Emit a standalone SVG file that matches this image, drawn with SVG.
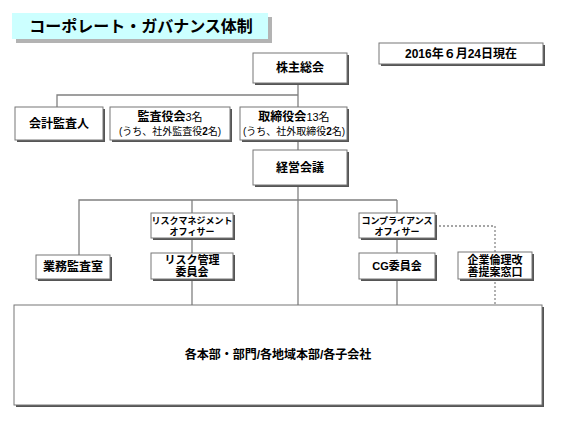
<svg xmlns="http://www.w3.org/2000/svg" width="566" height="424" viewBox="0 0 566 424">
<defs>
<style>
.sh{fill:#555555}
.bx{fill:#ffffff;stroke:#777777;stroke-width:1}
.ln{fill:none;stroke:#808080;stroke-width:1.3}
.dt{fill:none;stroke:#888888;stroke-width:1.3;stroke-dasharray:2 2}
text{font-family:"Liberation Sans","Noto Sans CJK JP",sans-serif;fill:#000;text-anchor:middle}
.b{font-weight:bold}
.t12{font-size:12px}
.t11{font-size:11px}
.t10{font-size:10px}
.t9{font-size:9px}
</style>
</defs>
<rect width="566" height="424" fill="#ffffff"/>

<g id="title">
<rect x="16" y="17" width="256" height="26" fill="#b3b3b3"/>
<rect x="12" y="13" width="256" height="26" fill="#ccffff"/>
<text x="141" y="32" class="b" style="font-size:16px">コーポレート・ガバナンス体制</text>
</g>

<g id="date">
<rect x="381" y="45" width="164" height="21" class="sh"/>
<rect x="379" y="43" width="164" height="21" class="bx"/>
<text x="461" y="58" class="b t12">2016年６月24日現在</text>
</g>

<g id="connectors">
<polyline class="ln" points="298,83 298,107"/>
<polyline class="ln" points="57,107 57,95 298,95"/>
<line class="ln" x1="298" y1="140" x2="298" y2="150"/>
<line class="ln" x1="298" y1="185" x2="298" y2="305"/>
<polyline class="ln" points="79,255 79,200 397,200"/>
<line class="ln" x1="192" y1="200" x2="192" y2="305"/>
<line class="ln" x1="397" y1="200" x2="397" y2="305"/>
<polyline class="dt" points="435,226 495,226 495,305"/>
</g>

<g id="kabunushi">
<rect x="255" y="55" width="94" height="30" class="sh"/>
<rect x="253" y="53" width="94" height="30" class="bx"/>
<text x="300" y="72" class="b t12">株主総会</text>
</g>

<g id="kaikei">
<rect x="17" y="109" width="88" height="33" class="sh"/>
<rect x="15" y="107" width="88" height="33" class="bx"/>
<text x="59" y="128" class="b t12">会計監査人</text>
</g>

<g id="kansayaku">
<rect x="112" y="109" width="120" height="33" class="sh"/>
<rect x="110" y="107" width="120" height="33" class="bx"/>
<text x="170" y="121" class="t11"><tspan class="b t12">監査役会</tspan>3名</text>
<text x="170" y="135" class="t10">(うち、社外監査役<tspan class="b">2</tspan>名)</text>
</g>

<g id="torishimari">
<rect x="242" y="109" width="107" height="33" class="sh"/>
<rect x="240" y="107" width="107" height="33" class="bx"/>
<text x="294" y="121" class="t11"><tspan class="b t12">取締役会</tspan>13名</text>
<text x="294" y="135" class="t10">(うち、社外取締役<tspan class="b">2</tspan>名)</text>
</g>

<g id="keiei">
<rect x="255" y="152" width="94" height="35" class="sh"/>
<rect x="253" y="150" width="94" height="35" class="bx"/>
<text x="300" y="172" class="b t12">経営会議</text>
</g>

<g id="gyomu">
<rect x="38" y="257" width="74" height="24" class="sh"/>
<rect x="36" y="255" width="74" height="24" class="bx"/>
<text x="73" y="271" class="b t12">業務監査室</text>
</g>

<g id="rm-officer">
<rect x="153" y="215" width="82" height="25" class="sh"/>
<rect x="151" y="213" width="82" height="25" class="bx"/>
<text x="192" y="224" class="b t9">リスクマネジメント</text>
<text x="192" y="235" class="b t9">オフィサー</text>
</g>

<g id="risk-committee">
<rect x="153" y="255" width="82" height="26" class="sh"/>
<rect x="151" y="253" width="82" height="26" class="bx"/>
<text x="192" y="264" class="b t11">リスク管理</text>
<text x="192" y="276" class="b t11">委員会</text>
</g>

<g id="comp-officer">
<rect x="361" y="215" width="76" height="25" class="sh"/>
<rect x="359" y="213" width="76" height="25" class="bx"/>
<text x="397" y="224" class="b t9">コンプライアンス</text>
<text x="397" y="235" class="b t9">オフィサー</text>
</g>

<g id="cg">
<rect x="361" y="255" width="76" height="26" class="sh"/>
<rect x="359" y="253" width="76" height="26" class="bx"/>
<text x="397" y="270" class="b t11">CG委員会</text>
</g>

<g id="kigyo-rinri">
<rect x="460" y="254" width="74" height="27" class="sh"/>
<rect x="458" y="252" width="74" height="27" class="bx"/>
<text x="495" y="264" class="b t11">企業倫理改</text>
<text x="495" y="276" class="b t11">善提案窓口</text>
</g>

<g id="honbu">
<rect x="16" y="307" width="528" height="100" class="sh"/>
<rect x="14" y="305" width="528" height="100" class="bx"/>
<text x="278" y="359" class="b t12">各本部・部門/各地域本部/各子会社</text>
</g>
</svg>
